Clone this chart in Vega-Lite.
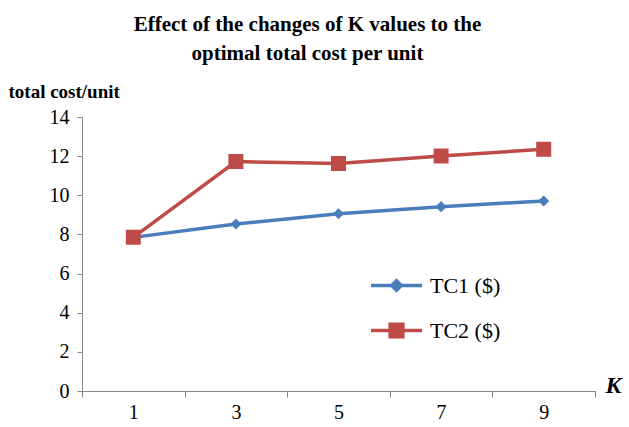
{
  "$schema": "https://vega.github.io/schema/vega-lite/v6.json",
  "width": 513,
  "height": 274,
  "autosize": {"type": "none"},
  "padding": {"left": 82, "top": 117, "right": 34, "bottom": 36},
  "background": "white",
  "config": {
    "view": {"stroke": null},
    "font": "Liberation Serif",
    "axis": {"grid": false, "domainColor": "#868686", "tickColor": "#868686", "labelColor": "black", "labelFont": "Liberation Serif", "labelFontSize": 20, "titleFont": "Liberation Serif", "titleColor": "black"}
  },
  "title": {
    "text": ["Effect of the changes of K values to the", "optimal total cost per unit"],
    "font": "Liberation Serif",
    "fontSize": 21,
    "fontWeight": "bold",
    "color": "black",
    "anchor": "middle",
    "frame": "group",
    "dx": -31,
    "dy": -14,
    "lineHeight": 29
  },
  "data": {
    "values": [
      {"K": 1, "series": "TC1 ($)", "cost": 7.85},
      {"K": 3, "series": "TC1 ($)", "cost": 8.53},
      {"K": 5, "series": "TC1 ($)", "cost": 9.06},
      {"K": 7, "series": "TC1 ($)", "cost": 9.42},
      {"K": 9, "series": "TC1 ($)", "cost": 9.71},
      {"K": 1, "series": "TC2 ($)", "cost": 7.85},
      {"K": 3, "series": "TC2 ($)", "cost": 11.72},
      {"K": 5, "series": "TC2 ($)", "cost": 11.63},
      {"K": 7, "series": "TC2 ($)", "cost": 12.01},
      {"K": 9, "series": "TC2 ($)", "cost": 12.35}
    ]
  },
  "encoding": {
    "x": {
      "field": "K", "type": "quantitative",
      "scale": {"domain": [0, 10], "nice": false, "zero": false},
      "axis": {
        "values": [0, 1, 2, 3, 4, 5, 6, 7, 8, 9, 10],
        "labelExpr": "datum.value % 2 == 1 ? datum.label : ''",
        "tickOpacity": {"condition": {"test": "datum.value % 2 == 1", "value": 0}, "value": 1},
        "tickSize": 6,
        "labelPadding": 5,
        "labelFlush": false,
        "title": "K",
        "titleFontSize": 24,
        "titleFontWeight": "bold",
        "titleFontStyle": "italic",
        "titleAngle": 0,
        "titleX": 531,
        "titleY": 1,
        "titleAlign": "center",
        "titleBaseline": "alphabetic"
      }
    },
    "y": {
      "field": "cost", "type": "quantitative",
      "scale": {"domain": [0, 14], "nice": false},
      "axis": {
        "values": [0, 2, 4, 6, 8, 10, 12, 14],
        "tickSize": 5,
        "labelPadding": 8,
        "title": "total  cost/unit",
        "titleFontSize": 19,
        "titleFontWeight": "bold",
        "titleAngle": 0,
        "titleX": -74,
        "titleY": -20,
        "titleAlign": "left",
        "titleBaseline": "alphabetic"
      }
    },
    "color": {
      "field": "series", "type": "nominal",
      "scale": {"domain": ["TC1 ($)", "TC2 ($)"], "range": ["#4a7ebb", "#be4b48"]},
      "legend": {
        "orient": "none",
        "legendX": 300,
        "legendY": 154,
        "title": null,
        "padding": 0,
        "labelFont": "Liberation Serif",
        "labelFontSize": 22,
        "labelColor": "black",
        "symbolSize": 650,
        "symbolStrokeWidth": 3.5,
        "labelOffset": 19,
        "rowPadding": 18,
        "encode": {"symbols": {"update": {"stroke": {"scale": "color", "field": "value"}, "strokeWidth": {"value": 3.5}}}}
      }
    }
  },
  "layer": [
    {"mark": {"type": "line", "strokeWidth": 3.5}},
    {
      "mark": {"type": "point", "filled": true, "opacity": 1, "strokeWidth": 0, "size": 900},
      "encoding": {
        "shape": {
          "field": "series", "type": "nominal",
          "scale": {"domain": ["TC1 ($)", "TC2 ($)"], "range": ["M-2,0H2M0,-0.37L0.37,0L0,0.37L-0.37,0Z", "M-2,0H2M-0.5,-0.5H0.5V0.5H-0.5Z"]}
        }
      }
    }
  ]
}
